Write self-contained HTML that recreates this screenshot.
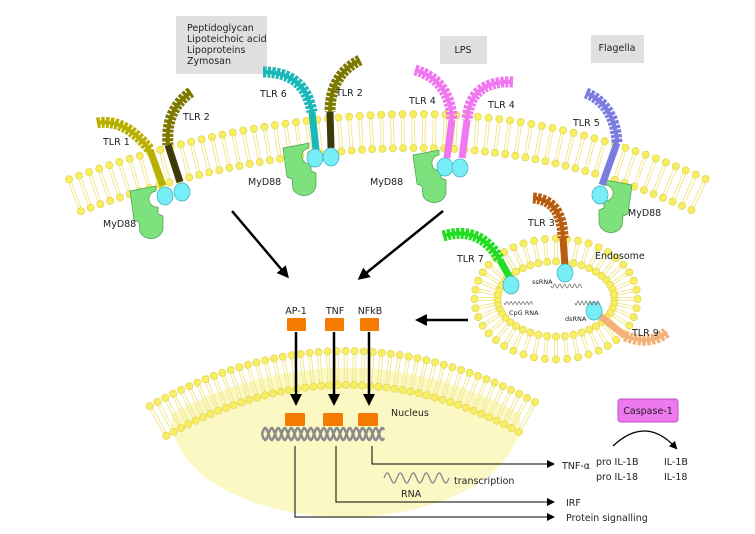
<!DOCTYPE html>
<html><head><meta charset="utf-8"><style>
html,body{margin:0;padding:0;background:#fff;width:755px;height:534px;overflow:hidden}
svg{display:block}
text{font-family:"DejaVu Sans","Liberation Sans",sans-serif;fill:#222}
</style></head><body>
<svg id="s" width="755" height="534" viewBox="0 0 755 534" xmlns="http://www.w3.org/2000/svg">
<defs>
<marker id="ah" markerWidth="8" markerHeight="8" refX="6" refY="4" orient="auto" markerUnits="userSpaceOnUse"><path d="M0,0 L8,4 L0,8 Z" fill="#000"/></marker>
<marker id="ab" markerWidth="12" markerHeight="12" refX="9" refY="6" orient="auto" markerUnits="userSpaceOnUse"><path d="M0,0 L12,6 L0,12 Z" fill="#000"/></marker>
<clipPath id="nc"><path id="ncp" d=""/></clipPath>
</defs>
<ellipse cx="346" cy="420" rx="174" ry="97" fill="#fbf8c4" clip-path="url(#nc)"/>
<g id="mem"></g>
<rect x="176" y="16" width="91" height="58" fill="#e0e0e0"/>
<text x="187" y="31" font-size="9.5">Peptidoglycan</text>
<text x="187" y="42" font-size="9.5">Lipoteichoic acid</text>
<text x="187" y="53" font-size="9.5">Lipoproteins</text>
<text x="187" y="64" font-size="9.5">Zymosan</text>
<rect x="440" y="36" width="47" height="28" fill="#e0e0e0"/>
<text x="463" y="53" font-size="9.5" text-anchor="middle">LPS</text>
<rect x="591" y="35" width="53" height="28" fill="#e0e0e0"/>
<text x="617" y="51" font-size="9.5" text-anchor="middle">Flagella</text>
<g id="tlr"></g>
<g font-size="9.5">
<text x="103" y="145">TLR 1</text>
<text x="183" y="120">TLR 2</text>
<text x="260" y="97">TLR 6</text>
<text x="336" y="96">TLR 2</text>
<text x="409" y="104">TLR 4</text>
<text x="488" y="108">TLR 4</text>
<text x="573" y="126">TLR 5</text>
<text x="103" y="227">MyD88</text>
<text x="248" y="185">MyD88</text>
<text x="370" y="185">MyD88</text>
<text x="628" y="216">MyD88</text>
<text x="528" y="226">TLR 3</text>
<text x="457" y="262">TLR 7</text>
<text x="595" y="259">Endosome</text>
<text x="632" y="336">TLR 9</text>
</g>
<g font-size="6.5"><text x="532" y="284">ssRNA</text><text x="509" y="315">CpG RNA</text><text x="565" y="321">dsRNA</text></g>
<g stroke="#000" stroke-width="2.5" fill="none">
<line x1="232" y1="211" x2="287" y2="276" marker-end="url(#ab)"/>
<line x1="443" y1="211" x2="360" y2="278" marker-end="url(#ab)"/>
<line x1="468" y1="320" x2="418" y2="320" marker-end="url(#ab)"/>
<line x1="296" y1="332" x2="296" y2="403" marker-end="url(#ab)"/>
<line x1="334" y1="332" x2="334" y2="403" marker-end="url(#ab)"/>
<line x1="369" y1="332" x2="369" y2="403" marker-end="url(#ab)"/>
</g>
<g fill="#f57c00">
<rect x="287" y="318" width="19" height="13" rx="1"/><rect x="325" y="318" width="19" height="13" rx="1"/><rect x="360" y="318" width="19" height="13" rx="1"/>
<rect x="285" y="413" width="20" height="13" rx="1"/><rect x="323" y="413" width="20" height="13" rx="1"/><rect x="358" y="413" width="20" height="13" rx="1"/>
</g>
<g font-size="9.5" text-anchor="middle"><text x="296" y="314">AP-1</text><text x="335" y="314">TNF</text><text x="370" y="314">NFkB</text></g>
<text x="391" y="416" font-size="9.5">Nucleus</text>
<g id="dna" stroke="#8c8c8c" stroke-width="2.5" fill="none"></g>
<g stroke="#000" stroke-width="1" fill="none">
<polyline points="372,446 372,464 553,464" marker-end="url(#ah)"/>
<polyline points="336,446 336,502 553,502" marker-end="url(#ah)"/>
<polyline points="295,446 295,517 553,517" marker-end="url(#ah)"/>
<path d="M613,446 Q646,415 676,448" stroke-width="1.3" marker-end="url(#ah)"/>
</g>
<path id="rna" d="" stroke="#888" stroke-width="1.3" fill="none"/>
<g font-size="9.5">
<text x="454" y="484">transcription</text>
<text x="401" y="497">RNA</text>
<text x="562" y="469">TNF-α</text>
<text x="596" y="465">pro IL-1B</text>
<text x="596" y="480">pro IL-18</text>
<text x="664" y="465">IL-1B</text>
<text x="664" y="480">IL-18</text>
<text x="566" y="506">IRF</text>
<text x="566" y="521">Protein signalling</text>
</g>
<rect x="618" y="399" width="60" height="23" rx="3" fill="#ee78ee" stroke="#c050c0" stroke-width="1"/>
<text x="648" y="414" font-size="9.5" text-anchor="middle">Caspase-1</text>
</svg>
<script>
var NS="http://www.w3.org/2000/svg";
function el(p,t,a){var e=document.createElementNS(NS,t);for(var k in a)e.setAttribute(k,a[k]);p.appendChild(e);return e;}
var mem=document.getElementById('mem');
var HR=3.6;
function lipid(x,y,nx,ny,h){
 var hx=x+nx*h,hy=y+ny*h,bx=x-nx*h,by=y-ny*h,tx=-ny*1.4,ty=nx*1.4;
 [[hx,hy],[bx,by]].forEach(function(p,i){
  var s=i?1:-1;
  el(mem,'line',{x1:p[0]+tx,y1:p[1]+ty,x2:x+tx+nx*s*1,y2:y+ty+ny*s*1,stroke:'#f1e78a','stroke-width':0.9});
  el(mem,'line',{x1:p[0]-tx,y1:p[1]-ty,x2:x-tx+nx*s*1,y2:y-ty+ny*s*1,stroke:'#f1e78a','stroke-width':0.9});
 });
 el(mem,'circle',{cx:hx,cy:hy,r:HR,fill:'#f7ee63',stroke:'#e2d44c','stroke-width':0.7});
 el(mem,'circle',{cx:bx,cy:by,r:HR,fill:'#f7ee63',stroke:'#e2d44c','stroke-width':0.7});
}
function curve(f,x0,x1,h,step){
 var x=x0;
 while(x<=x1){
  var d=(f(x+0.5)-f(x-0.5));var L=Math.sqrt(1+d*d);
  var nx=-d/L,ny=1/L;
  lipid(x,f(x),-nx,-ny,h);
  x+=step/L;
 }
}
curve(function(x){return 131+(x<420?0.00054:0.00082)*(x-420)*(x-420);},75,700,17,10.5);
var nf=function(x){return 368+0.0015*(x-346)*(x-346);};
var cp='M160,540';for(var x=160;x<=534;x+=4)cp+=' L'+x+','+nf(x).toFixed(1);cp+=' L534,540 Z';
document.getElementById('ncp').setAttribute('d',cp);
curve(nf,158,534,17,8.6);
(function(){var cx=556,cy=299,rx=70,ry=49,n=44;
for(var i=0;i<n;i++){var t=2*Math.PI*i/n;var x=cx+rx*Math.cos(t),y=cy+ry*Math.sin(t);
var nx=Math.cos(t)/rx,ny=Math.sin(t)/ry;var L=Math.hypot(nx,ny);lipid(x,y,nx/L,ny/L,11.5);}})();
var tg=document.getElementById('tlr');
function tlr(ecto,stalk,col,scol,circ){
 el(tg,'path',{d:ecto,stroke:col,'stroke-width':11,fill:'none','stroke-dasharray':'3.2,1.3'});
 el(tg,'path',{d:ecto,stroke:col,'stroke-width':4,fill:'none'});
 el(tg,'path',{d:stalk,stroke:scol||col,'stroke-width':7,fill:'none'});
 if(circ)el(tg,'ellipse',{cx:circ[0],cy:circ[1],rx:8,ry:9,fill:'#77eef5',stroke:'#3bb0c0','stroke-width':0.7});
}
function myd(x,y,m){
 var d="M0,5 L26,0 L26,5 A8,8 0 0 0 28,21 L28,28 L33,30 L33,42 A12,11 0 0 1 10,46 L9,36 L4,34 Z";
 el(tg,'path',{d:d,fill:'#7de27d',stroke:'#4a9a4a','stroke-width':0.7,transform:m?('translate('+x+','+y+') scale(-1,1)'):('translate('+x+','+y+')')});
}
myd(130,186);myd(283,143);myd(413,150);myd(632,180,true);
tlr("M97,123 Q125,118 150,150","M150,150 L163,186",'#b8b000',null,[165,196]);
tlr("M191,92 Q165,110 168,145","M168,145 L180,182",'#7d7800','#3d3a08',[182,192]);
tlr("M263,72 Q305,72 312,112","M312,112 L316,150",'#1ab8b8',null,[315,158]);
tlr("M360,60 Q330,75 330,112","M330,112 L331,148",'#7d7800','#3d3a08',[331,157]);
tlr("M415,70 Q450,80 452,120","M452,120 L447,158",'#ef77ef',null,[445,167]);
tlr("M513,82 Q470,80 467,120","M467,120 L462,158",'#ef77ef',null,[460,168]);
tlr("M586,93 Q615,105 617,143","M617,143 L602,185",'#7b7be0',null,[600,195]);
tlr("M533,198 Q562,200 563,238","M563,238 L565,266",'#b85c10',null,[565,273]);
tlr("M443,236 Q480,225 500,260","M500,260 L510,278",'#22dd22',null,[511,285]);
tlr("M625,336 Q650,346 667,332","M594,311 L625,336",'#f2b27a',null,[594,311]);
var dg=document.getElementById('dna');
[0,Math.PI].forEach(function(ph){var p='';for(var x=262;x<=384;x+=1){var y=434+6*Math.sin((x-262)/13*2*Math.PI+ph);p+=(x==262?'M':'L')+x+','+y.toFixed(1);}el(dg,'path',{d:p});});
function wave(x0,x1,yc,a,per,w,col){var p='';for(var x=x0;x<=x1;x+=0.5){p+=(x==x0?'M':'L')+x+','+(yc+a*Math.sin((x-x0)/per*2*Math.PI)).toFixed(1);}el(document.getElementById('s'),'path',{d:p,stroke:col||'#777','stroke-width':w||0.8,fill:'none'});}
document.getElementById('rna').setAttribute('d',(function(){var p='';for(var x=384;x<=449;x+=0.5){p+=(x==384?'M':'L')+x+','+(478-5*Math.sin((x-384)/13*2*Math.PI)).toFixed(1);}return p;})());
wave(551,582,286,2,5,0.8);
wave(504,533,303,1.5,4,0.8);
wave(575,600,303,2,4,0.8);
</script>
</body></html>
